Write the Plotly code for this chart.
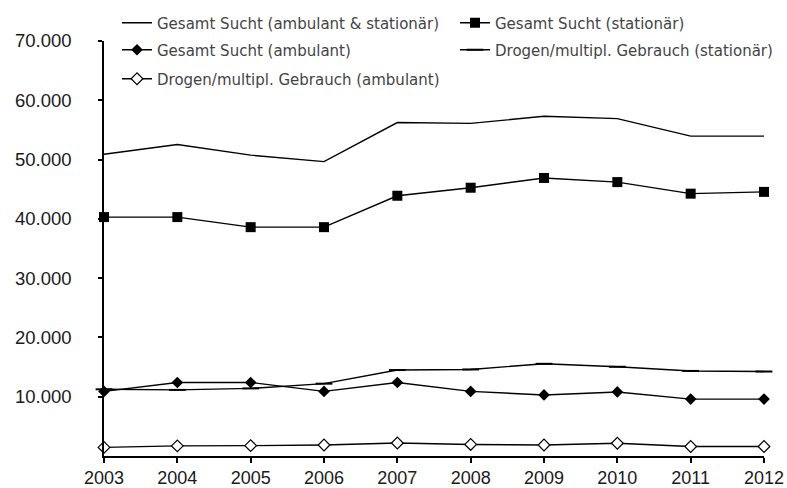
import plotly.graph_objects as go

# Jahre und Fallzahlen je Reihe
years = [2003, 2004, 2005, 2006, 2007, 2008, 2009, 2010, 2011, 2012]
gesamt_amb_stat = [50900, 52550, 50750, 49650, 56250, 56100, 57300, 56900, 53950, 53950]
gesamt_stat = [40300, 40300, 38600, 38600, 43900, 45250, 46900, 46200, 44250, 44550]
gesamt_amb = [10900, 12400, 12400, 10900, 12400, 10900, 10300, 10800, 9600, 9600]
drogen_stat = [11250, 11150, 11400, 12200, 14500, 14600, 15550, 15050, 14350, 14250]
drogen_amb = [1450, 1700, 1750, 1850, 2200, 1950, 1850, 2150, 1600, 1600]

y_ticks = [10000, 20000, 30000, 40000, 50000, 60000, 70000]
x_ticks = years

FONT = "Liberation Sans, Arial, sans-serif"
LEGEND_FONT = "DejaVu Sans, Arial, sans-serif"
W, H = 787, 488

fig = go.Figure()

line = dict(color="black", width=1.4)

# (Werte, Name, Marker, Legende)
series = [
    (gesamt_amb_stat, "Gesamt Sucht (ambulant & stationär)", None, "legend"),
    (gesamt_stat, "Gesamt Sucht (stationär)",
     dict(symbol="square", size=10, color="black"), "legend2"),
    (gesamt_amb, "Gesamt Sucht (ambulant)",
     dict(symbol="diamond", size=9, color="black"), "legend3"),
    (drogen_stat, "Drogen/multipl. Gebrauch (stationär)",
     dict(symbol="line-ew-open", size=12, line=dict(color="black", width=2)), "legend4"),
    (drogen_amb, "Drogen/multipl. Gebrauch (ambulant)",
     dict(symbol="diamond", size=9, color="white", line=dict(color="black", width=1.2)), "legend5"),
]

for values, name, marker, lg in series:
    fig.add_trace(go.Scatter(
        x=years, y=values,
        mode="lines" if marker is None else "lines+markers",
        line=line, marker=marker, name=name, legend=lg,
        cliponaxis=False,
    ))


def legend_at(x_px, y_px):
    return dict(
        orientation="h",
        xref="container", yref="container",
        x=x_px / W, xanchor="left",
        y=1 - y_px / H, yanchor="middle",
        font=dict(family=LEGEND_FONT, size=15, color="#444444"),
        bgcolor="rgba(0,0,0,0)",
        itemwidth=30,
    )


fig.update_layout(
    width=W, height=H,
    margin=dict(l=104, r=23, t=41, b=32, autoexpand=False),
    plot_bgcolor="white", paper_bgcolor="white",
    separators=",.",
    showlegend=True,
    legend=legend_at(117, 23),
    legend2=legend_at(455, 23),
    legend3=legend_at(117, 50),
    legend4=legend_at(455, 50),
    legend5=legend_at(117, 79),
    xaxis=dict(
        range=[2003, 2012], tickvals=x_ticks,
        showgrid=False, zeroline=False,
        showline=True, linecolor="black", linewidth=1.5,
        ticks="outside", ticklen=5, tickwidth=1.5, tickcolor="black",
        tickfont=dict(family=FONT, size=18, color="#1a1a1a"),
    ),
    yaxis=dict(
        range=[0, 70000], tickvals=y_ticks, tickformat=",d",
        showgrid=False, zeroline=False,
        showline=True, linecolor="black", linewidth=1.5,
        ticks="outside", ticklen=4, tickwidth=1.5, tickcolor="black",
        ticklabelstandoff=23,
        tickfont=dict(family=FONT, size=18.5, color="#1a1a1a"),
    ),
)

fig.write_html("out.html")
